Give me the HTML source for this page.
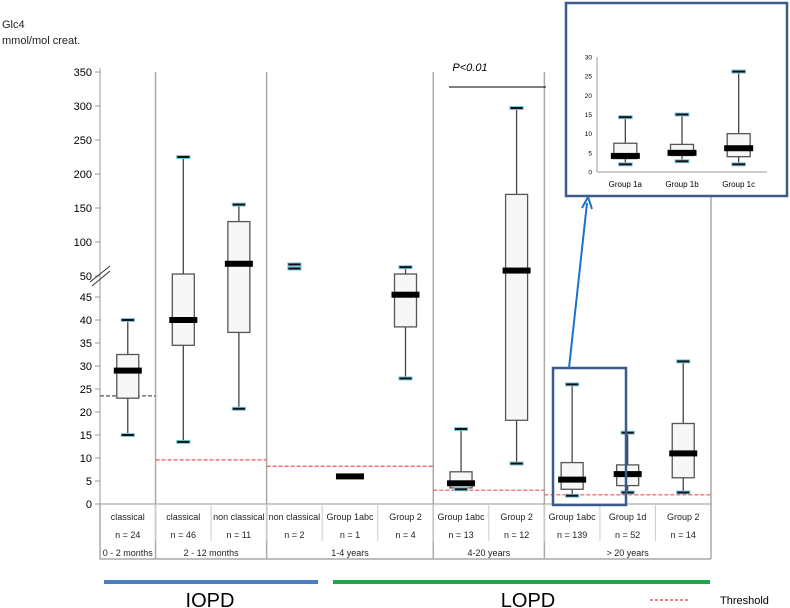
<!DOCTYPE html>
<html><head><meta charset="utf-8"><style>
body{margin:0;background:#fff;}
svg{display:block;font-family:"Liberation Sans",sans-serif;}
</style></head><body>
<svg id="c" width="790" height="608" viewBox="0 0 790 608">
<text x="2" y="28" font-size="11" fill="#222">Glc4</text>
<text x="2" y="44" font-size="11" fill="#222">mmol/mol creat.</text>
<g id="main"></g>
<text x="470" y="71" font-size="11" font-style="italic" text-anchor="middle">P&lt;0.01</text>
<line x1="449" y1="87" x2="546" y2="87" stroke="#000" stroke-width="1"/>
<rect x="553" y="368" width="73" height="137" fill="none" stroke="#3c5a8c" stroke-width="2.5"/>
<line x1="569" y1="368" x2="587" y2="203" stroke="#1a72c9" stroke-width="2"/>
<polyline points="582,208 588,197 592,209" fill="none" stroke="#1a72c9" stroke-width="2"/>
<rect x="566" y="3" width="221" height="193" fill="#fff" stroke="#3c5a8c" stroke-width="2.5"/>
<g id="inset"></g>
<line x1="104" y1="582" x2="318" y2="582" stroke="#4a7fc0" stroke-width="4"/>
<line x1="333" y1="582" x2="710" y2="582" stroke="#1aa84a" stroke-width="4"/>
<text x="210" y="607" font-size="20" text-anchor="middle">IOPD</text>
<text x="528" y="607" font-size="20" text-anchor="middle">LOPD</text>
<line x1="650" y1="600" x2="690" y2="600" stroke="#f05050" stroke-width="1.5" stroke-dasharray="3,2"/>
<text x="720" y="604" font-size="11">Threshold</text>
</svg>
<script>
const categories=["classical","classical","non classical","non classical","Group 1abc","Group 2","Group 1abc","Group 2","Group 1abc","Group 1d","Group 2"];
const counts=["n = 24","n = 46","n = 11","n = 2","n = 1","n = 4","n = 13","n = 12","n = 139","n = 52","n = 14"];
const mins=[15,13.5,20.7,61,null,27.3,3.2,8.8,1.8,2.5,2.5];
const q1s=[23,34.5,37.3,null,null,38.5,3.5,18.2,3.2,4,5.7];
const medians=[29,40,68,null,6,45.5,4.5,58,5.3,6.5,11];
const q3s=[32.5,50,130,null,null,50,7,170,9,8.5,17.5];
const maxs=[40,225,155,67,null,63,16.3,297,26,15.5,31];
const ageGroups=["0 - 2 months","2 - 12 months","1-4 years","4-20 years","> 20 years"];
const ageSpans=[1,2,3,2,3];
const thresholds=[23.5,9.6,8.2,3,2];
const ticksLow=[0,5,10,15,20,25,30,35,40,45];
const ticksHigh=[50,100,150,200,250,300,350];
const insetCats=["Group 1a","Group 1b","Group 1c"];
const insetMin=[2,2.8,2];
const insetQ1=[3.5,4.3,4];
const insetMed=[4.2,5,6.2];
const insetQ3=[7.5,7.2,10];
const insetMax=[14.3,15,26.2];
const insetTicks=[0,5,10,15,20,25,30];

const NS="http://www.w3.org/2000/svg";
function mk(p,t,a){const e=document.createElementNS(NS,t);for(const k in a)e.setAttribute(k,a[k]);p.appendChild(e);return e;}
const X0=100,X1=711,COLW=(X1-X0)/categories.length;
function y(v){return v<=50?504-v*4.6:276-(v-50)*0.68;}
function xc(i){return X0+COLW*(i+0.5);}
const g=document.getElementById('main');
let e=mk(g,'line',{x1:X0,y1:68,x2:X0,y2:504,stroke:'#999'});


ticksLow.forEach(t=>{const yy=y(t);
 let l=mk(g,'line',{x1:X0-5,y1:yy,x2:X0,y2:yy,stroke:'#999'});
 
 
 let s=mk(g,'text',{x:X0-8,y:yy+4,'font-size':11,'text-anchor':'end'});s.textContent=t;
 
 });
ticksHigh.forEach(t=>{const yy=t===50?y(50.01):y(t);
 let l=mk(g,'line',{x1:X0-5,y1:yy,x2:X0,y2:yy,stroke:'#999'});
 
 
 let s=mk(g,'text',{x:X0-8,y:yy+4,'font-size':11,'text-anchor':'end'});s.textContent=t;
 
 });
e=mk(g,'path',{d:'M90,282 L110,266 M92,286 L110,271',stroke:'#333',fill:'none'});


let start=0;
ageSpans.forEach((sp,k)=>{
 const xa=X0+COLW*start,xb=X0+COLW*(start+sp);
 let l=mk(g,'line',{x1:xb,y1:72,x2:xb,y2:559,stroke:'#aaa','stroke-width':1.5});
 
 
 let th=mk(g,'line',{x1:xa,y1:y(thresholds[k]),x2:xb,y2:y(thresholds[k]),stroke:k==0?'#555':'#f05050','stroke-width':1.2,'stroke-dasharray':'4,2'});
 
 
 let t=mk(g,'text',{x:(xa+xb)/2,y:556,'font-size':9,'text-anchor':'middle',fill:'#222'});t.textContent=ageGroups[k];
 
 
 start+=sp;});
e=mk(g,'line',{x1:X0,y1:504,x2:X1,y2:504,stroke:'#999'});


e=mk(g,'path',{d:`M${X0},504 V559 H${X1}`,stroke:'#aaa',fill:'none','stroke-width':1.5});


categories.forEach((c,i)=>{
 const x=xc(i);
 if(i>0){let d=mk(g,'line',{x1:X0+COLW*i,y1:504,x2:X0+COLW*i,y2:541,stroke:'#ccc'});
  
  }
 let t=mk(g,'text',{x:x,y:520,'font-size':9,'text-anchor':'middle',fill:'#222'});t.textContent=c;
 
 
 let n=mk(g,'text',{x:x,y:538,'font-size':9,'text-anchor':'middle',fill:'#222'});n.textContent=counts[i];
 
 
 drawBox(g,x,mins[i],q1s[i],medians[i],q3s[i],maxs[i],y,22,'box-'+i);
});
function cap(p,x,v,yf,w){
 let c=mk(p,'rect',{x:x-w/2,y:yf(v)-1.5,width:w,height:3,fill:'#111',stroke:'#7cc8e0','stroke-width':1});
 
 }
function drawBox(p,x,mn,q1,md,q3,mx,yf,bw,name){
 const gg=mk(p,'g',{});
 
 
 if(q1!=null){
  let w=mk(gg,'line',{x1:x,y1:yf(mn),x2:x,y2:yf(mx),stroke:'#444','stroke-width':1.3});
  
  
  let r=mk(gg,'rect',{x:x-bw/2,y:yf(q3),width:bw,height:yf(q1)-yf(q3),fill:'#f7f7f7',stroke:'#555','stroke-width':1.3});
  
  
 } else if(mn!=null){
  let w=mk(gg,'line',{x1:x,y1:yf(mn),x2:x,y2:yf(mx),stroke:'#444','stroke-width':1.3});
  
  
 }
 if(mn!=null){cap(gg,x,mn,yf,bw*0.6);cap(gg,x,mx,yf,bw*0.6);}
 if(md!=null){let m=mk(gg,'rect',{x:x-bw/2-3,y:yf(md)-3,width:bw+6,height:6,fill:'#000'});
  
  }
}
const ig=document.getElementById('inset');
const IX0=597,IX1=767,IW=(IX1-IX0)/insetCats.length;
function iy(v){return 172-v*(115/30);}
e=mk(ig,'line',{x1:IX0,y1:57,x2:IX0,y2:172,stroke:'#999'});


e=mk(ig,'line',{x1:IX0,y1:172,x2:IX1,y2:172,stroke:'#999'});


insetTicks.forEach(t=>{let s=mk(ig,'text',{x:IX0-5,y:iy(t)+2.5,'font-size':6.5,'text-anchor':'end'});s.textContent=t;
 
 });
insetCats.forEach((c,i)=>{const x=IX0+IW*(i+0.5);
 let s=mk(ig,'text',{x:x,y:187,'font-size':8,'text-anchor':'middle'});s.textContent=c;
 
 
 drawBox(ig,x,insetMin[i],insetQ1[i],insetMed[i],insetQ3[i],insetMax[i],iy,23,'inset-box-'+i);});
</script>
</body></html>
